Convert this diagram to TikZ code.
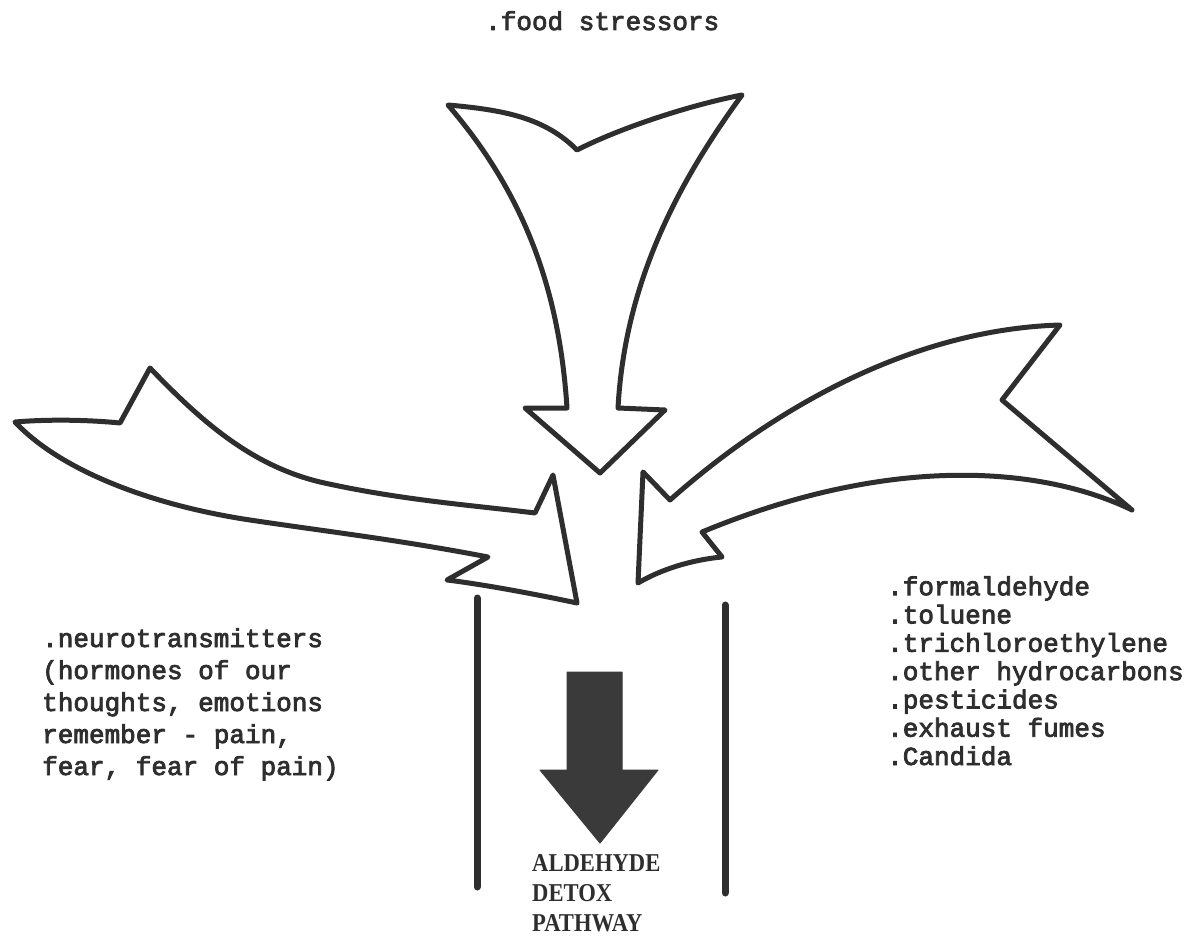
\documentclass[tikz,border=0pt]{standalone}
\usepackage{fontspec}
\newfontfamily\typefont{Liberation Mono}[FakeBold=3]
\newfontfamily\headfont{Liberation Serif}
\definecolor{ink}{HTML}{2E2E2E}
\definecolor{fillink}{HTML}{3A3A3A}
\begin{document}
\begin{tikzpicture}[x=1pt,y=-1pt,
  outline/.style={draw=ink,line width=5pt,line join=round,fill=white},
  rail/.style={draw=ink,line width=7pt,line cap=round},
  solidarrow/.style={fill=fillink,draw=fillink,line width=1pt,line join=round},
  typed/.style={inner sep=0pt,align=left,font=\typefont\fontsize{26}{32}\selectfont,text=ink},
  typedr/.style={inner sep=0pt,align=left,font=\typefont\fontsize{26}{28.3}\selectfont,text=ink},
  heading/.style={inner sep=0pt,align=left,font=\headfont\bfseries\fontsize{25.7}{30}\selectfont,text=ink,xscale=0.88}]
\useasboundingbox[fill=white] (0,0) rectangle (1195,936);

% top arrow (food stressors)
\path[outline] (448,105) .. controls (505,110) and (545,118) .. (577,150)
  .. controls (620,128) and (690,105) .. (742,95)
  .. controls (680,180) and (625,280) .. (618,408)
  -- (665,410) -- (600,473) -- (525,408) -- (567,408)
  .. controls (560,300) and (530,200) .. (448,105) -- cycle;

% left arrow
\path[outline] (15,422) .. controls (50,419) and (90,420) .. (120,423) -- (150,368)
  .. controls (200,420) and (250,465) .. (320,482)
  .. controls (400,500) and (470,505) .. (535,513)
  -- (553,475) -- (577,603)
  .. controls (530,593) and (480,584) .. (447,580) -- (488,557)
  .. controls (400,540) and (330,532) .. (250,520)
  .. controls (150,505) and (60,470) .. (15,422) -- cycle;

% right arrow
\path[outline] (643,472) -- (670,500)
  .. controls (760,420) and (900,330) .. (1060,325)
  -- (1002,400) -- (1132,510)
  .. controls (1050,470) and (900,450) .. (702,532)
  -- (722,557)
  .. controls (690,560) and (660,570) .. (638,583) -- cycle;

% channel walls
\coordinate (lt) at (477,598); \coordinate (lb) at (477,887);
\coordinate (rt) at (725,605); \coordinate (rb) at (725,893);
\draw[rail] (lt) -- (lb);
\draw[rail] (rt) -- (rb);

% solid arrow
\path[solidarrow] (567,672) -- (622,672) -- (622,770) -- (658,770) -- (600,843)
  -- (540,770) -- (567,770) -- cycle;

% texts (base west = baseline of the last line)
\node[typed,anchor=base west] (food) at (485,30) {.food stressors};
\node[typed,anchor=base west] (neuro) at (42,775)
  {.neurotransmitters\\(hormones of our\\thoughts, emotions\\remember - pain,\\fear, fear of pain)};
\node[typedr,anchor=base west] (chem) at (887,765)
  {.formaldehyde\\.toluene\\.trichloroethylene\\.other hydrocarbons\\.pesticides\\.exhaust fumes\\.Candida};
\node[heading,anchor=base west] (path) at (532,931) {ALDEHYDE\\DETOX\\PATHWAY};
\end{tikzpicture}
\end{document}
